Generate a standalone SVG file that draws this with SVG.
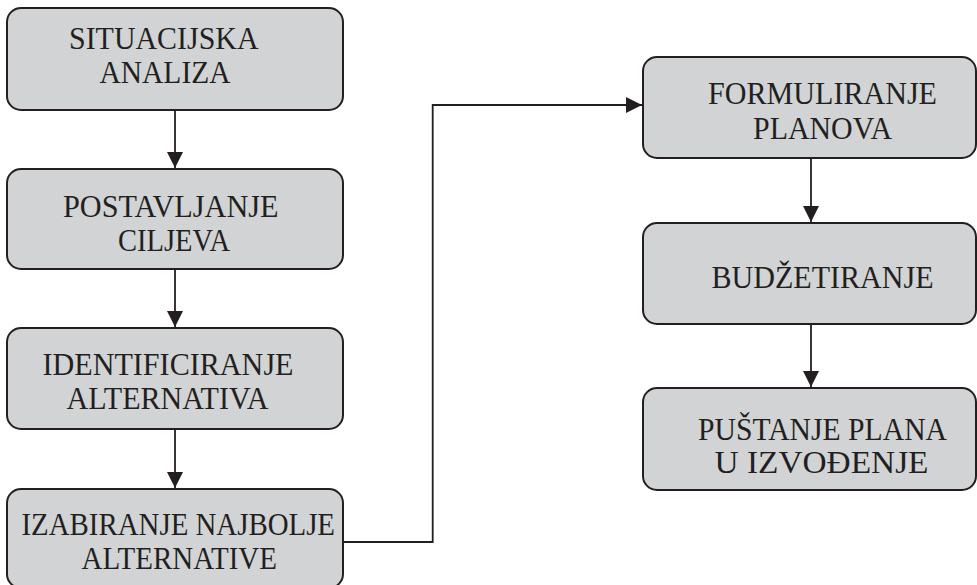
<svg xmlns="http://www.w3.org/2000/svg" width="977" height="585" viewBox="0 0 977 585">
<style>
  .box { fill: #d1d3d4; stroke: #231f20; stroke-width: 2; }
  .lbl { font-family: "Liberation Serif", "Times New Roman", serif; font-size: 32px; fill: #231f20; }
  .con { fill: none; stroke: #231f20; stroke-width: 1.8; }
</style>
<defs>
  <marker id="arr" viewBox="0 0 16 16" refX="16" refY="8" markerWidth="16" markerHeight="16" markerUnits="userSpaceOnUse" orient="auto">
    <path d="M0,0 L16,8 L0,16 Z" fill="#231f20"/>
  </marker>
</defs>
<rect width="977" height="585" fill="#ffffff"/>
<g id="connectors">
  <line class="con" x1="175" y1="110" x2="175" y2="168" marker-end="url(#arr)"/>
  <line class="con" x1="175" y1="269" x2="175" y2="327" marker-end="url(#arr)"/>
  <line class="con" x1="175" y1="429" x2="175" y2="488" marker-end="url(#arr)"/>
  <polyline class="con" points="343,542 432.7,542 432.7,105 642,105" marker-end="url(#arr)"/>
  <line class="con" x1="811" y1="158" x2="811" y2="222" marker-end="url(#arr)"/>
  <line class="con" x1="811" y1="324" x2="811" y2="387" marker-end="url(#arr)"/>
</g>
<g id="n1">
  <rect class="box" x="7" y="8" width="336" height="102" rx="14"/>
  <text class="lbl" x="69" y="49.3" textLength="189.5" lengthAdjust="spacingAndGlyphs">SITUACIJSKA</text>
  <text class="lbl" x="99.5" y="83.3" textLength="131" lengthAdjust="spacingAndGlyphs">ANALIZA</text>
</g>
<g id="n2">
  <rect class="box" x="7" y="169" width="336" height="100" rx="14"/>
  <text class="lbl" x="63" y="216.7" textLength="215.5" lengthAdjust="spacingAndGlyphs">POSTAVLJANJE</text>
  <text class="lbl" x="118" y="250.5" textLength="112" lengthAdjust="spacingAndGlyphs">CILJEVA</text>
</g>
<g id="n3">
  <rect class="box" x="7" y="328" width="336" height="101" rx="14"/>
  <text class="lbl" x="42.5" y="375" textLength="251" lengthAdjust="spacingAndGlyphs">IDENTIFICIRANJE</text>
  <text class="lbl" x="66.5" y="409" textLength="202" lengthAdjust="spacingAndGlyphs">ALTERNATIVA</text>
</g>
<g id="n4">
  <rect class="box" x="7" y="489" width="336" height="99" rx="14"/>
  <text class="lbl" x="21.5" y="535" textLength="313.5" lengthAdjust="spacingAndGlyphs">IZABIRANJE NAJBOLJE</text>
  <text class="lbl" x="81.5" y="568.5" textLength="195.5" lengthAdjust="spacingAndGlyphs">ALTERNATIVE</text>
</g>
<g id="n5">
  <rect class="box" x="643" y="57" width="333" height="101" rx="14"/>
  <text class="lbl" x="708" y="104" textLength="229" lengthAdjust="spacingAndGlyphs">FORMULIRANJE</text>
  <text class="lbl" x="753" y="138.5" textLength="139" lengthAdjust="spacingAndGlyphs">PLANOVA</text>
</g>
<g id="n6">
  <rect class="box" x="643" y="223" width="333" height="101" rx="14"/>
  <text class="lbl" x="711.5" y="288" textLength="222" lengthAdjust="spacingAndGlyphs">BUDŽETIRANJE</text>
</g>
<g id="n7">
  <rect class="box" x="643" y="388" width="333" height="102" rx="14"/>
  <text class="lbl" x="698" y="439.5" textLength="249" lengthAdjust="spacingAndGlyphs">PUŠTANJE PLANA</text>
  <text class="lbl" x="714.5" y="473" textLength="214" lengthAdjust="spacingAndGlyphs">U IZVOĐENJE</text>
</g>
</svg>
